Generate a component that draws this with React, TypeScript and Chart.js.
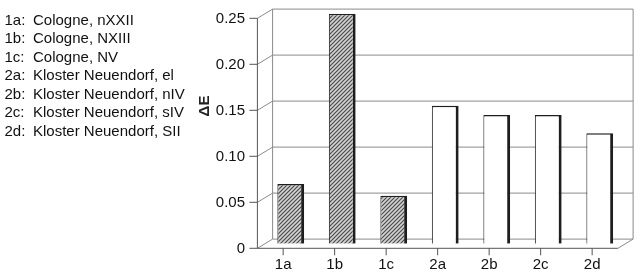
import React, { useEffect, useRef } from 'react';
import { Chart, registerables } from 'chart.js';

Chart.register(...registerables);

const categories = ['1a', '1b', '1c', '2a', '2b', '2c', '2d'];
const deltaE = [0.065, 0.25, 0.052, 0.15, 0.14, 0.14, 0.12];
const hatched = [true, true, true, false, false, false, false];
const sampleNames = [
  'Cologne, nXXII',
  'Cologne, NXIII',
  'Cologne, NV',
  'Kloster Neuendorf, el',
  'Kloster Neuendorf, nIV',
  'Kloster Neuendorf, sIV',
  'Kloster Neuendorf, SII',
];
const yTicks = [0, 0.05, 0.1, 0.15, 0.2, 0.25];
const yTitle = 'ΔE';

const FONT = '"Liberation Sans", Arial, sans-serif';
const DX = 7.6;
const DY = 4.6;

function makeHatch(): CanvasPattern | string {
  const c = document.createElement('canvas');
  c.width = 4;
  c.height = 4;
  const g = c.getContext('2d');
  if (!g) return '#999';
  g.fillStyle = '#d4d4d4';
  g.fillRect(0, 0, 4, 4);
  g.strokeStyle = '#4a4a4a';
  g.lineWidth = 1.2;
  g.beginPath();
  g.moveTo(0, 4); g.lineTo(4, 0);
  g.moveTo(-1, 1); g.lineTo(1, -1);
  g.moveTo(3, 5); g.lineTo(5, 3);
  g.stroke();
  const p = g.createPattern(c, 'repeat');
  return p || '#999';
}

const frame3d = {
  id: 'frame3d',
  beforeDatasetsDraw(chart: any) {
    const { ctx, chartArea: a, scales } = chart;
    const x = scales.x;
    const y = scales.y;
    const L = a.left;
    const R = a.right;
    const y0 = y.getPixelForValue(0);
    const yTop = y.getPixelForValue(yTicks[yTicks.length - 1]);
    const line = (x1: number, y1: number, x2: number, y2: number) => {
      ctx.beginPath();
      ctx.moveTo(x1, y1);
      ctx.lineTo(x2, y2);
      ctx.stroke();
    };
    ctx.save();
    ctx.lineWidth = 1;
    ctx.strokeStyle = '#8a8a8a';
    yTicks.forEach((v) => {
      const py = y.getPixelForValue(v);
      line(L + DX, py - DY, R + DX, py - DY);
      line(L - DX, py + DY, L + DX, py - DY);
    });
    line(L + DX, yTop - DY, L + DX, y0 - DY);
    line(R + DX, yTop - DY, R + DX, y0 - DY);
    line(R - DX, y0 + DY, R + DX, y0 - DY);
    ctx.strokeStyle = '#555';
    yTicks.forEach((v) => {
      const py = y.getPixelForValue(v);
      line(L - DX - 8, py + DY, L - DX, py + DY);
    });
    line(L - DX, yTop + DY, L - DX, y0 + DY);
    line(L - DX, y0 + DY, R - DX, y0 + DY);
    categories.forEach((_, i) => {
      const px = x.getPixelForValue(i) - DX;
      line(px, y0 + DY, px, y0 + DY + 7);
    });
    ctx.fillStyle = '#222';
    ctx.font = 'bold 15px ' + FONT;
    ctx.translate(205, 106);
    ctx.rotate(-Math.PI / 2);
    ctx.textAlign = 'center';
    ctx.textBaseline = 'middle';
    ctx.fillText(yTitle, 0, 0);
    ctx.restore();
  },
};

export default function App() {
  const ref = useRef<HTMLCanvasElement | null>(null);

  useEffect(() => {
    if (!ref.current) return;
    const hatch = makeHatch();
    const chart = new Chart(ref.current, {
      type: 'bar',
      data: {
        labels: categories,
        datasets: [
          {
            data: deltaE,
            backgroundColor: hatched.map((h) => (h ? hatch : '#ffffff')) as any,
            borderColor: '#1e1e1e',
            borderWidth: { left: 1, right: 3, top: 1.5, bottom: 0 } as any,
            borderSkipped: 'start',
            barPercentage: 0.52,
            categoryPercentage: 1,
          },
        ],
      },
      options: {
        responsive: false,
        animation: false,
        layout: { padding: { left: 190, right: 14.5, top: 13.7, bottom: 0 } },
        plugins: { legend: { display: false }, tooltip: { enabled: false } },
        scales: {
          x: {
            type: 'category',
            offset: true,
            grid: { display: false, drawTicks: false },
            border: { display: false },
            ticks: {
              padding: 12,
              labelOffset: -DX,
              color: '#111',
              font: { family: FONT, size: 15 },
              maxRotation: 0,
            },
            afterFit: (s: any) => {
              s.height = 34.3;
              s.paddingLeft = 0;
              s.paddingRight = 0;
            },
          },
          y: {
            min: 0,
            max: 0.25,
            grid: { display: false, drawTicks: false },
            border: { display: false },
            afterBuildTicks: (s: any) => {
              s.ticks = yTicks.map((v) => ({ value: v }));
            },
            ticks: {
              padding: 20,
              labelOffset: 5.5,
              color: '#111',
              font: { family: FONT, size: 15 },
              callback: (v: any) => (Number(v) === 0 ? '0' : Number(v).toFixed(2)),
            },
            afterFit: (s: any) => {
              s.width = 75;
              s.paddingTop = 0;
              s.paddingBottom = 0;
            },
          },
        },
      },
      plugins: [frame3d],
    });
    return () => chart.destroy();
  }, []);

  return (
    <div style={{ position: 'fixed', left: 0, top: 0, width: 640, height: 278, background: '#fff', overflow: 'hidden' }}>
      <canvas ref={ref} width={640} height={278} style={{ position: 'absolute', left: 0, top: 0, width: 640, height: 278 }} />
      <div
        style={{
          position: 'absolute',
          left: 4.5,
          top: 10.6,
          fontFamily: FONT,
          fontSize: 15,
          lineHeight: '18.5px',
          color: '#111',
          whiteSpace: 'nowrap',
        }}
      >
        {categories.map((c, i) => (
          <div key={c}>
            <span style={{ display: 'inline-block', width: 28.5 }}>{c}:</span>
            {sampleNames[i]}
          </div>
        ))}
      </div>
    </div>
  );
}
